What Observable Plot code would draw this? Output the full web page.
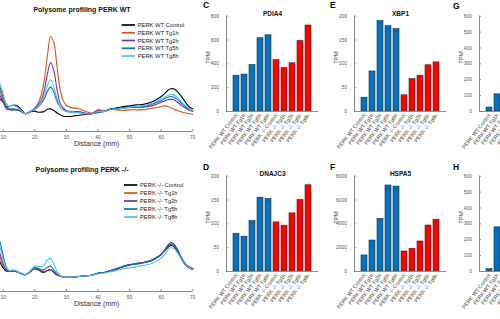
<!DOCTYPE html>
<html><head><meta charset="utf-8">
<script src="https://cdn.jsdelivr.net/npm/d3@7"></script>
<script src="https://cdn.jsdelivr.net/npm/@observablehq/plot@0.6"></script>
<style>
html,body{margin:0;padding:0;background:#fff;}
#root{position:relative;width:500px;height:319px;overflow:hidden;background:#fff;font-family:"Liberation Sans",Arial,Helvetica,sans-serif;}
</style></head><body><div id="root"></div>
<script>
// ---------- Polysome profiles (arbitrary absorbance units) ----------
const distance = [8,9,10,11,12,13,14,15,16,17,18,19,20,21,22,23,24,25,26,27,28,29,30,32,34,36,38,40,42,44,46,48,50,52,54,56,58,60,61,62,63,64,65,66,67,68,69,70];
const distanceTicks = [10,20,30,40,50,60,70];

const wtControl = [32.7,29.7,26.7,22.7,22.7,23.9,23.9,22.1,19.1,16.1,17.0,18.2,18.5,17.6,17.6,18.2,20.3,20.6,19.1,17.0,15.2,13.9,13.6,13.9,14.8,15.5,16.1,17.3,18.5,20.6,21.5,22.7,23.3,24.2,24.5,25.8,28.2,31.8,34.2,37.3,38.8,38.8,36.7,33.3,29.4,25.2,22.1,20.6];
const wtTg1h = [41.8,36.7,28.2,21.5,20.0,19.7,19.7,19.1,17.6,16.1,17.0,18.5,20.6,25.2,32.7,46.4,69.1,86.4,81.2,60.0,38.8,28.2,23.6,21.5,20.6,18.5,16.7,19.1,18.2,20.0,19.7,19.1,19.7,19.7,19.7,20.6,21.5,22.7,23.3,22.7,21.5,20.3,19.1,18.2,17.3,16.7,16.1,15.5];
const wtTg2h = [37.3,32.7,26.7,20.6,19.7,19.7,19.7,19.1,17.6,16.1,17.3,19.1,21.5,24.2,28.2,37.3,52.4,62.7,55.5,38.8,25.8,21.5,19.1,17.9,18.2,16.7,16.1,19.7,18.5,20.0,20.3,21.5,22.1,22.1,22.1,22.7,24.2,26.7,27.6,28.8,29.4,28.8,27.0,24.5,22.7,20.9,19.1,18.2];
const wtTg5h = [44.8,39.7,31.2,22.7,20.6,20.6,20.3,19.1,17.6,16.1,17.3,19.1,20.0,22.1,25.2,29.7,36.7,40.3,35.8,27.6,22.1,19.7,18.2,17.3,17.0,16.1,16.1,17.9,18.2,20.3,20.6,21.5,22.1,22.1,22.7,23.6,25.8,28.2,29.7,31.2,31.8,31.2,29.4,26.7,24.2,22.1,20.0,19.1];
const wtTg8h = [49.4,43.3,34.2,25.2,22.7,23.6,22.7,20.6,18.2,16.1,17.3,19.1,20.6,22.7,26.7,32.7,41.8,47.0,40.9,29.7,22.7,19.7,18.5,17.3,17.3,16.1,16.1,17.9,18.2,20.3,20.3,21.2,21.8,22.7,23.3,24.5,26.7,29.7,31.2,32.7,33.6,33.3,31.2,28.2,25.2,22.7,20.3,19.1];

const koControl = [34.2,26.7,21.5,18.5,18.5,18.5,18.2,17.3,16.1,15.2,16.7,19.1,21.2,20.6,17.9,17.3,19.1,20.0,17.3,15.2,13.9,13.3,13.0,13.0,13.6,14.2,14.8,16.4,17.3,19.1,20.3,22.7,24.2,25.2,26.1,27.3,29.7,33.6,36.7,39.7,41.8,40.9,37.3,31.8,26.7,23.0,21.2,20.0];
const koTg1h = [38.8,31.2,23.6,19.7,18.5,18.5,18.2,17.3,16.1,15.2,16.7,19.1,20.9,20.0,18.5,17.9,19.1,19.7,17.6,15.2,13.9,13.3,13.0,13.0,13.6,14.2,14.8,16.7,17.3,19.1,20.9,22.7,24.2,25.2,26.1,27.3,29.7,33.6,36.7,40.9,42.7,41.8,38.5,32.7,27.6,23.9,22.1,20.9];
const koTg2h = [41.8,34.2,25.2,19.7,18.5,18.5,18.2,17.3,16.1,15.2,16.7,19.1,20.6,19.7,18.5,18.2,19.1,19.7,17.9,15.5,14.2,13.3,13.0,13.0,13.6,14.2,14.8,16.7,17.3,19.1,20.9,23.0,24.5,25.5,26.4,27.6,30.0,33.9,37.3,41.2,43.3,42.7,38.8,33.0,27.6,23.9,22.1,20.9];
const koTg5h = [53.9,44.8,32.7,22.1,18.5,18.5,18.2,17.3,16.1,15.2,16.7,19.4,21.5,21.2,19.7,20.0,22.1,23.0,19.7,16.1,14.2,13.3,13.0,13.0,13.6,14.2,14.8,16.7,17.3,18.8,20.6,22.4,23.9,24.8,25.8,27.0,29.4,33.6,37.3,41.8,44.5,43.3,38.8,32.7,26.7,23.0,21.2,20.0];
const koTg8h = [47.9,40.3,29.7,21.5,19.1,19.7,19.1,17.6,16.4,15.2,17.3,20.3,23.0,23.0,22.7,24.2,28.8,30.3,25.2,18.5,14.8,13.3,13.0,13.0,13.6,14.2,14.8,16.1,16.7,17.9,19.1,20.6,21.5,22.4,23.6,24.5,26.7,30.3,33.3,37.3,39.7,38.8,35.8,31.2,26.7,23.3,21.2,20.0];

const wtNames = ["PERK WT Control","PERK WT Tg1h","PERK WT Tg2h","PERK WT Tg5h","PERK WT Tg8h"];
const koNames = ["PERK -/- Control","PERK -/- Tg1h","PERK -/- Tg2h","PERK -/- Tg5h","PERK -/- Tg8h"];
const lineColors = ["#000000","#D95319","#7E2F8E","#0072BD","#4DBEEE"];

// ---------- Bar charts (TPM) ----------
const conditions = wtNames.concat(koNames);
const genotype = ["WT","WT","WT","WT","WT","KO","KO","KO","KO","KO"];
const barColors = ["#0072BD","#FF0000"];
const pdia4 = [300,310,390,615,640,432,365,405,592,722];
const xbp1 = [29,84,190,179,173,34,68,75,97,103];
const dnajc3 = [79,73,106,155,152,103,96,122,150,181];
const hspa5 = [1350,2600,4420,7220,7130,1680,1900,2520,3860,4340];
const geneG = [25,108];
const geneH = [15,278];
const ticksPDIA4 = [0,200,400,600,800];
const ticksXBP1 = [0,50,100,150,200];
const ticksDNAJC3 = [0,50,100,150,200];
const ticksHSPA5 = [0,2000,4000,6000,8000];
const ticksG = [0,100,200,300,400,500,600];
const ticksH = [0,100,200,300,400,500,600];

const FONT = "'Liberation Sans', Arial, Helvetica, sans-serif";
const rootEl = document.getElementById("root");
function place(node, left, top) {
  node.style.position = "absolute";
  node.style.left = left + "px";
  node.style.top = top + "px";
  rootEl.appendChild(node);
}

function polysome(top, names, series) {
  const rows = series.flatMap((vals, k) => distance.map((d, i) => ({distance: d, a254: vals[i], sample: names[k]})));
  const p = Plot.plot({
    width: 200, height: 150,
    marginLeft: 0, marginRight: 7.67, marginTop: 21, marginBottom: 19,
    style: {background: "transparent", fontFamily: FONT, overflow: "visible"},
    x: {domain: [9.155, 70]},
    y: {domain: [0, 100], axis: null},
    color: {domain: names, range: lineColors},
    marks: [
      Plot.ruleY([0], {stroke: "#8a8a8a", strokeWidth: 1}),
      Plot.line(rows, {x: "distance", y: "a254", z: "sample", stroke: "sample", strokeWidth: 1.1, curve: "catmull-rom"}),
      Plot.axisX({ticks: distanceTicks, tickSize: -2, tickPadding: 5.5, tickFormat: d => String(d), fontSize: 5, fill: "#555", stroke: "#8a8a8a", label: null}),
      Plot.text(["Distance (mm)"], {frameAnchor: "bottom", dy: 14.7, fontSize: 7, fill: "#333"})
    ]
  });
  place(p, 0, top);
}

function barPanel(left, top, title, values, ticks) {
  const rows = values.map((v, i) => ({condition: conditions[i], tpm: v, genotype: genotype[i]}));
  const p = Plot.plot({
    width: 125, height: 160,
    marginLeft: 30, marginRight: 3, marginTop: 15.7, marginBottom: 49,
    style: {background: "transparent", fontFamily: FONT, overflow: "visible"},
    x: {domain: conditions, paddingInner: 0.2, paddingOuter: 0.6},
    y: {domain: [0, ticks[ticks.length - 1]]},
    color: {domain: ["WT","KO"], range: barColors},
    marks: [
      Plot.barY(rows, {x: "condition", y: "tpm", fill: "genotype", stroke: "#2b2b2b", strokeWidth: 0.6}),
      Plot.ruleY([0], {stroke: "#8a8a8a"}),
      Plot.frame({anchor: "left", stroke: "#8a8a8a"}),
      Plot.axisY({ticks, tickSize: -2, tickPadding: 9.5, tickFormat: d => String(d), fontSize: 5, fill: "#555", stroke: "#8a8a8a", label: null}),
      Plot.axisX({tickSize: 0, tickRotate: -52, tickPadding: 3, fontSize: 5.3, fill: "#444", label: null}),
      Plot.text(["TPM"], {frameAnchor: "left", rotate: -90, dx: -18, fontSize: 6, fill: "#444"}),
      title ? Plot.text([title], {frameAnchor: "top", dy: -4.5, fontSize: 6.5, fontWeight: "bold", fill: "#111"}) : null
    ]
  });
  place(p, left - 30, top);
}

polysome(0, wtNames, [wtControl, wtTg1h, wtTg2h, wtTg5h, wtTg8h]);
polysome(160, koNames, [koControl, koTg1h, koTg2h, koTg5h, koTg8h]);

barPanel(226, 0, "PDIA4", pdia4, ticksPDIA4);
barPanel(353.5, 0, "XBP1", xbp1, ticksXBP1);
barPanel(478.5, 0, null, geneG, ticksG);
barPanel(226, 160, "DNAJC3", dnajc3, ticksDNAJC3);
barPanel(353.5, 160, "HSPA5", hspa5, ticksHSPA5);
barPanel(478.5, 160, null, geneH, ticksH);

// ---------- overlay: titles, legends, panel letters ----------
const ov = d3.select(rootEl).append("svg")
  .attr("width", 500).attr("height", 319)
  .style("position", "absolute").style("left", "0px").style("top", "0px")
  .style("font-family", FONT);

const titles = [
  {text: "Polysome profiling PERK WT", x: 82, y: 12.3},
  {text: "Polysome profiling PERK -/-", x: 82, y: 172.2}
];
ov.selectAll("text.title").data(titles).join("text")
  .attr("class", "title").attr("x", d => d.x).attr("y", d => d.y)
  .attr("text-anchor", "middle").attr("font-size", 7).attr("font-weight", "bold").attr("fill", "#111")
  .text(d => d.text);

function legend(names, x1, x2, tx, y0, step) {
  const g = ov.append("g");
  names.forEach((n, i) => {
    const y = y0 + i * step;
    g.append("line").attr("x1", x1).attr("x2", x2).attr("y1", y).attr("y2", y)
      .attr("stroke", lineColors[i]).attr("stroke-width", 1.7);
    g.append("text").attr("x", tx).attr("y", y).attr("dy", "0.35em")
      .attr("font-size", 5.8).attr("fill", "#222").text(n);
  });
}
legend(wtNames, 121.7, 135, 137.7, 25, 7.75);
legend(koNames, 124, 137.3, 140, 185, 8);

const letters = [
  {t: "C", x: 203, y: 8.3}, {t: "E", x: 330, y: 8.3}, {t: "G", x: 453, y: 8.8},
  {t: "D", x: 203, y: 170.3}, {t: "F", x: 330, y: 170.3}, {t: "H", x: 453, y: 170.3}
];
ov.selectAll("text.letter").data(letters).join("text")
  .attr("class", "letter").attr("x", d => d.x).attr("y", d => d.y)
  .attr("font-size", 8.5).attr("font-weight", "bold").attr("fill", "#000")
  .text(d => d.t);
</script>
</body></html>
